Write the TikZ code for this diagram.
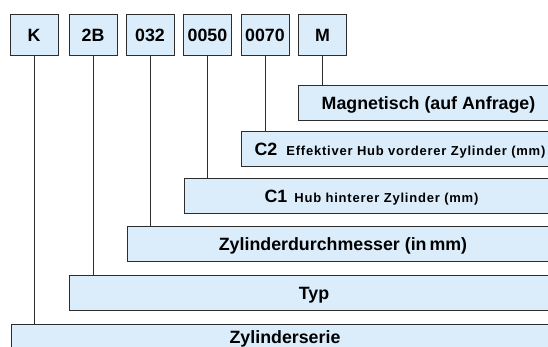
\documentclass[tikz,border=0pt]{standalone}
\usepackage{fontspec}
\setmainfont{Liberation Sans}
\usetikzlibrary{positioning}
\definecolor{barfill}{RGB}{219,237,251}
\definecolor{edge}{RGB}{45,45,45}
\newcommand{\smalltxt}[1]{{\fontsize{13}{15}\selectfont\addfontfeature{LetterSpace=6}#1}}

\begin{document}
\begin{tikzpicture}[x=1pt,y=-1pt,
    codebox/.style={draw=edge,line width=1pt,fill=barfill,minimum width=48pt,minimum height=41pt,
      inner sep=0pt,text height=12.7pt,text depth=0pt,font=\fontsize{17.8}{20}\selectfont\bfseries},
    bar/.style={draw=edge,line width=1pt,fill=barfill,anchor=north west,minimum height=35pt,
      inner sep=0pt,text height=12.7pt,text depth=0pt,font=\fontsize{17.8}{20}\selectfont\bfseries},
    link/.style={draw=edge,line width=0.8pt}]
        \useasboundingbox (0,0) rectangle (548,347);
        \clip (0,0) rectangle (548,347);
        \node[codebox] (k)    at (34,35.5)    {K};
        \node[codebox] (typ)  at (93,35.5)    {2B};
        \node[codebox] (bore) at (150,35.5)   {032};
        \node[codebox] (cone) at (207.5,35.5) {0050};
        \node[codebox] (ctwo) at (265,35.5)   {0070};
        \node[codebox] (mag)  at (322.5,35.5) {M};
        \node[bar,minimum width=260pt] (magbar)  at (298,85)  {Magnetisch (auf Anfrage)};
        \node[bar,minimum width=317pt] (ctwobar) at (241,131) {C2\hspace{9pt}\smalltxt{Effektiver Hub vorderer Zylinder (mm)}};
        \node[bar,minimum width=374pt] (conebar) at (184,178) {C1\hspace{7pt}\smalltxt{Hub hinterer Zylinder (mm)}};
        \node[bar,minimum width=431pt] (borebar) at (127,226) {Zylinderdurchmesser (in\,mm)};
        \node[bar,minimum width=489pt] (typbar)  at (69,275)  {Typ};
        \node[bar,minimum width=547pt,minimum height=25pt] (kbar) at (11,324) {Zylinderserie};
        \draw[link] (k.south)    -- (k.south |- kbar.north);
        \draw[link] (typ.south)  -- (typ.south |- typbar.north);
        \draw[link] (bore.south) -- (bore.south |- borebar.north);
        \draw[link] (cone.south) -- (cone.south |- conebar.north);
        \draw[link] (ctwo.south) -- (ctwo.south |- ctwobar.north);
        \draw[link] (mag.south)  -- (mag.south |- magbar.north);
      \end{tikzpicture}
\end{document}
